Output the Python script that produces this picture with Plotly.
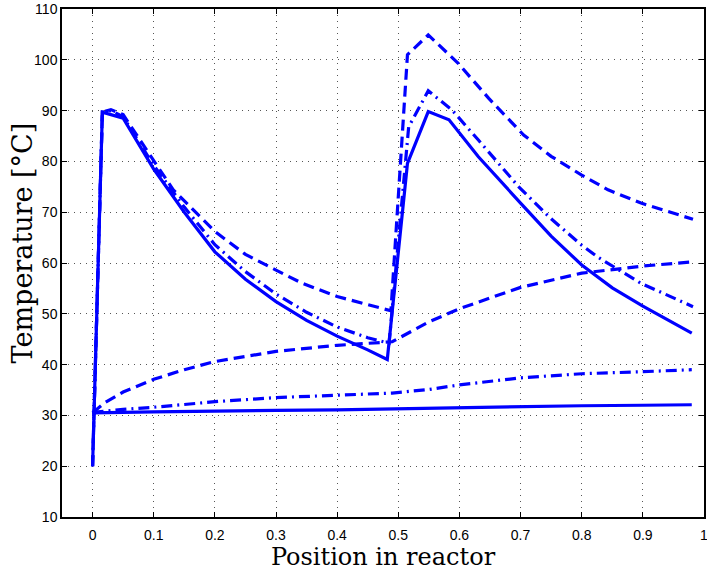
import plotly.graph_objects as go

# Gas temperature profiles (upper curves)
x_solid = [0, 0.016, 0.05, 0.1, 0.15, 0.2, 0.25, 0.3, 0.35, 0.4, 0.45, 0.482,
           0.515, 0.549, 0.583, 0.607, 0.631, 0.7, 0.75, 0.8, 0.85, 0.9, 0.95, 0.98]
y_solid = [20, 89.7, 88.5, 78.5, 70, 62.2, 56.8, 52.4, 48.7, 45.6, 42.9, 41.0,
           79.6, 89.8, 88.2, 84.5, 80.9, 71.8, 65.3, 59.6, 55.1, 51.5, 48.3, 46.2]

x_dashdot = [0, 0.016, 0.03, 0.05, 0.1, 0.15, 0.2, 0.25, 0.3, 0.35, 0.4, 0.45, 0.485,
             0.517, 0.549, 0.588, 0.631, 0.697, 0.75, 0.8, 0.827, 0.897, 0.982]
y_dashdot = [20, 89.7, 90.0, 88.8, 79.2, 71, 63.6, 58.3, 53.9, 50.3, 47.4, 45.3, 44.2,
             86.8, 93.9, 90.1, 84.2, 75.0, 68.7, 63.5, 61.1, 56.0, 51.4]

x_dash = [0, 0.016, 0.03, 0.05, 0.0886, 0.132, 0.2, 0.25, 0.3, 0.343, 0.4, 0.45, 0.488,
          0.515, 0.549, 0.598, 0.648, 0.705, 0.75, 0.8, 0.843, 0.897, 0.982]
y_dash = [20, 89.7, 90.2, 89.2, 82.2, 74.4, 66.2, 61.7, 58.6, 56.0, 53.4, 51.8, 50.6,
          101.0, 104.9, 99.3, 92.4, 85.2, 81.0, 77.3, 74.4, 71.8, 68.6]

# Coolant temperature profiles (lower curves)
x_low = [0, 0.02, 0.05, 0.1, 0.15, 0.2, 0.3, 0.4, 0.49, 0.55, 0.6, 0.7, 0.8, 0.9, 0.98]
y_low_solid = [30.5, 30.6, 30.6, 30.7, 30.8, 30.9, 31.0, 31.1, 31.3, 31.5, 31.6, 31.8, 31.9, 32.0, 32.1]
y_low_dashdot = [30.6, 30.9, 31.2, 31.6, 32.2, 32.7, 33.5, 34.0, 34.4, 35.1, 36.0, 37.4, 38.2, 38.6, 39.0]
y_low_dash = [30.5, 32.5, 34.6, 37.1, 39.0, 40.6, 42.6, 43.8, 44.5, 48.4, 51.0, 55.2, 58.0, 59.4, 60.2]

x_ticks = [0, 0.1, 0.2, 0.3, 0.4, 0.5, 0.6, 0.7, 0.8, 0.9, 1]
x_tick_labels = ["0", "0.1", "0.2", "0.3", "0.4", "0.5", "0.6", "0.7", "0.8", "0.9", "1"]
y_ticks = [10, 20, 30, 40, 50, 60, 70, 80, 90, 100, 110]

BLUE = "#0000ff"
DASH = "11px,6px"
DASHDOT = "11px,5px,2px,5px"

fig = go.Figure()
series = [
    (x_solid, y_solid, "solid"),
    (x_dashdot, y_dashdot, DASHDOT),
    (x_dash, y_dash, DASH),
    (x_low, y_low_solid, "solid"),
    (x_low, y_low_dashdot, DASHDOT),
    (x_low, y_low_dash, DASH),
]
for xs, ys, d in series:
    fig.add_trace(go.Scatter(x=xs, y=ys, mode="lines",
                             line=dict(color=BLUE, width=3.2, dash=d),
                             showlegend=False, hoverinfo="skip"))

axis_common = dict(
    showline=True, linecolor="black", linewidth=1.5, mirror="ticks",
    ticks="inside", ticklen=5, tickcolor="black", tickwidth=1,
    showgrid=True, gridcolor="#555555", griddash="1px,5px", gridwidth=1,
    zeroline=False, automargin=False, ticklabeloverflow="allow",
    tickfont=dict(family="Liberation Sans, Arial, sans-serif", size=14, color="black"),
)

fig.update_xaxes(range=[-0.05, 1], tickvals=x_ticks, ticktext=x_tick_labels,
                 ticklabelstandoff=4,
                 title=dict(text="Position in reactor", standoff=4,
                            font=dict(family="DejaVu Serif, serif", size=24, color="black")),
                 **axis_common)
fig.update_yaxes(range=[10, 110], tickvals=y_ticks, **axis_common)

fig.add_annotation(text="Temperature [°C]", textangle=-90, showarrow=False,
                   xref="paper", yref="paper", x=-0.062, y=0.539,
                   xanchor="center", yanchor="middle",
                   font=dict(family="DejaVu Serif, serif", size=27, color="black"))

fig.update_layout(
    width=707, height=572,
    margin=dict(l=62, r=3, t=9, b=55),
    paper_bgcolor="white", plot_bgcolor="white",
)

fig.write_html("out.html", config={"displayModeBar": False},
               post_script="document.body.style.margin='0';document.body.style.overflow='hidden';")
